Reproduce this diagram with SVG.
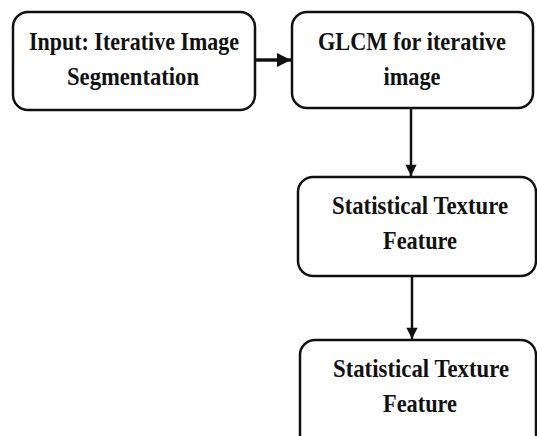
<svg xmlns="http://www.w3.org/2000/svg" width="537" height="436" viewBox="0 0 537 436">
<style>
.box{fill:#fff;stroke:#111;stroke-width:2.5}
.t{font-family:"Liberation Serif","DejaVu Serif",serif;font-weight:bold;font-size:25px;fill:#111;text-anchor:middle}
.c{stroke:#111;fill:none}
</style>
<defs>
<marker id="ah" viewBox="0 0 10 10" refX="10" refY="5" markerWidth="4" markerHeight="4" markerUnits="strokeWidth" orient="auto">
<path d="M0,0 L10,5 L0,10 z" fill="#111"/>
</marker>
<marker id="av" viewBox="0 0 10 10" refX="10" refY="5" markerWidth="5" markerHeight="4.5" markerUnits="strokeWidth" orient="auto">
<path d="M0,0 L10,5 L0,10 z" fill="#111"/>
</marker>
</defs>
<rect width="537" height="436" fill="#fff"/>
<g id="n1">
<rect class="box" x="13" y="12" width="242" height="98" rx="15"/>
<text class="t" x="134" y="50" textLength="210" lengthAdjust="spacingAndGlyphs">Input: Iterative Image</text>
<text class="t" x="133" y="85" textLength="132" lengthAdjust="spacingAndGlyphs">Segmentation</text>
</g>
<g id="n2">
<rect class="box" x="292" y="12" width="241" height="96" rx="15"/>
<text class="t" x="412" y="50" textLength="188" lengthAdjust="spacingAndGlyphs">GLCM for iterative</text>
<text class="t" x="412" y="85" textLength="57" lengthAdjust="spacingAndGlyphs">image</text>
</g>
<g id="n3">
<rect class="box" x="298" y="177" width="238" height="99" rx="15"/>
<text class="t" x="420" y="214" textLength="176" lengthAdjust="spacingAndGlyphs">Statistical Texture</text>
<text class="t" x="420" y="249" textLength="74" lengthAdjust="spacingAndGlyphs">Feature</text>
</g>
<g id="n4">
<rect class="box" x="300" y="340" width="236" height="120" rx="15"/>
<text class="t" x="421" y="377" textLength="176" lengthAdjust="spacingAndGlyphs">Statistical Texture</text>
<text class="t" x="420" y="412" textLength="74" lengthAdjust="spacingAndGlyphs">Feature</text>
</g>
<g id="connectors">
<line class="c" x1="256" y1="60" x2="291" y2="60" stroke-width="3.5" marker-end="url(#ah)"/>
<line class="c" x1="411" y1="109" x2="411" y2="176" stroke-width="2.5" marker-end="url(#av)"/>
<line class="c" x1="412" y1="277" x2="412" y2="339" stroke-width="2.5" marker-end="url(#av)"/>
</g>
</svg>
